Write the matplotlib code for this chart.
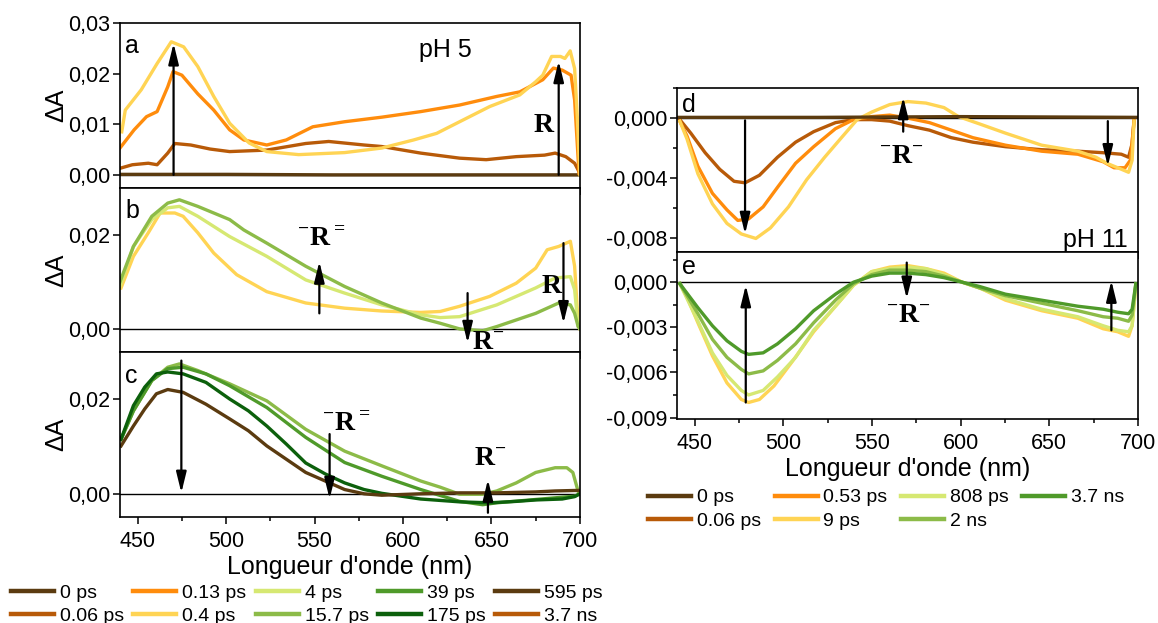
import matplotlib
matplotlib.use('Agg')
import matplotlib.pyplot as plt
from matplotlib.ticker import MultipleLocator, FuncFormatter
from matplotlib.lines import Line2D

plt.rcParams['font.family'] = ['Liberation Sans', 'DejaVu Sans']
plt.rcParams['axes.unicode_minus'] = False
plt.rcParams['mathtext.fontset'] = 'custom'
plt.rcParams['mathtext.rm'] = 'Liberation Serif:bold'
plt.rcParams['mathtext.bf'] = 'Liberation Serif:bold'

# ---- pH 5, panel a ----
wl_a_0 = [440, 500, 560, 620, 680, 700]
a_0 = [0.0001, 0.0001, 0.0, 0.0, 0.0, 0.0]
wl_a_006 = [440, 447, 456, 461, 467, 471, 480, 491, 502, 523, 545, 558, 578, 588, 610, 632, 647, 664, 680, 686, 692, 697, 700]
a_006 = [0.0013, 0.002, 0.0023, 0.002, 0.0043, 0.0062, 0.0059, 0.0051, 0.0046, 0.0049, 0.0062, 0.0066, 0.0059,
         0.0056, 0.0043, 0.0033, 0.003, 0.0036, 0.0039, 0.0043, 0.0036, 0.0023, 0.0003]
wl_a_013 = [440, 448, 455, 461, 467, 470, 475, 484, 493, 502, 510, 523, 534, 549, 567, 588, 610, 632, 653, 666, 679,
            685, 690, 695, 697, 699.5]
a_013 = [0.0053, 0.0089, 0.0115, 0.0125, 0.0174, 0.0204, 0.0197, 0.016, 0.0128, 0.0089, 0.0069, 0.0059, 0.0069,
         0.0095, 0.0105, 0.0114, 0.0125, 0.0138, 0.0155, 0.0164, 0.0188, 0.0211, 0.0207, 0.0197, 0.0148, 0.0003]
wl_a_04 = [441, 443, 452, 461, 469, 476, 484, 493, 502, 513, 523, 541, 567, 588, 606, 619, 632, 649, 666, 675, 679,
           684, 689, 691.5, 694.5, 697, 698.5, 700]
a_04 = [0.0085, 0.0128, 0.0168, 0.022, 0.0263, 0.0253, 0.0214, 0.0155, 0.0102, 0.0063, 0.0046, 0.004, 0.0044,
        0.0053, 0.0069, 0.0082, 0.0105, 0.0135, 0.0158, 0.0184, 0.0197, 0.0234, 0.0234, 0.023, 0.0245, 0.021,
        0.0115, 0.0]

# ---- pH 5, panel b ----
wl_b_04 = [440.6, 447.6, 456, 462.7, 471, 475.7, 484, 493, 506, 523, 545, 567, 588, 610, 621, 632, 649, 664, 675,
           681.5, 688, 694.6, 697, 699, 700]
b_04 = [0.0087, 0.0154, 0.0204, 0.0246, 0.0246, 0.0239, 0.0204, 0.0161, 0.0115, 0.0079, 0.0055, 0.0044, 0.0038,
        0.0035, 0.0037, 0.0048, 0.0069, 0.0097, 0.0129, 0.0168, 0.0175, 0.0186, 0.0133, 0.0012, 0.0]
wl_b_4 = [440, 447.6, 458, 467, 473.6, 484, 502, 523, 545, 567, 588, 610, 621, 632, 653, 675, 686, 694.6, 697, 699,
          700]
b_4 = [0.009, 0.0175, 0.0232, 0.0257, 0.026, 0.0239, 0.0196, 0.0154, 0.0104, 0.0076, 0.0051, 0.003, 0.0024,
       0.0026, 0.0051, 0.0087, 0.0108, 0.0111, 0.0083, 0.0005, 0.0]
wl_b_157 = [440, 447.6, 458, 467, 473.6, 484, 502, 510, 523, 545, 567, 588, 610, 621, 632, 645, 653, 675, 688, 694.6,
            697, 699, 700]
b_157 = [0.01, 0.0175, 0.0239, 0.0267, 0.0274, 0.026, 0.0232, 0.021, 0.0182, 0.0133, 0.009, 0.0055, 0.0023, 0.0012,
         0.0, -0.0004, 0.0005, 0.0033, 0.0055, 0.0051, 0.0033, 0.0005, 0.0]

# ---- pH 5, panel c ----
wl_c_157 = [440.6, 447.6, 458, 467, 473.6, 484, 502, 523, 545, 567, 588, 610, 621, 632, 645, 653, 664, 675, 686,
            692.6, 696, 699, 700]
c_157 = [0.0115, 0.0175, 0.0239, 0.0267, 0.0274, 0.026, 0.0232, 0.0196, 0.0136, 0.009, 0.0059, 0.0027, 0.0014,
         -0.0001, -0.0001, 0.0006, 0.0023, 0.0045, 0.0055, 0.0055, 0.0045, 0.0005, 0.0]
wl_c_39 = [440.6, 447.6, 458, 467, 475.7, 488.6, 502, 523, 545, 567, 588, 610, 632, 645, 653, 675, 697, 700]
c_39 = [0.0115, 0.0175, 0.0239, 0.0264, 0.0267, 0.0253, 0.0228, 0.0182, 0.0119, 0.0066, 0.0037, 0.0009, -0.0016,
        -0.0023, -0.0019, -0.0012, -0.0005, 0.0]
wl_c_175 = [440.6, 447.6, 454, 460.6, 467, 475.7, 488.6, 502, 512.6, 523, 534, 545, 556, 567, 578, 588, 599, 610,
            632, 649, 664, 675, 690, 697, 700]
c_175 = [0.0115, 0.0186, 0.0225, 0.0253, 0.0257, 0.0253, 0.0235, 0.02, 0.0175, 0.0143, 0.0105, 0.0065, 0.0042,
         0.0023, 0.0009, 0.0001, -0.0005, -0.0011, -0.0017, -0.0019, -0.0016, -0.0013, -0.0011, -0.0006, 0.0]
wl_c_595 = [440.6, 447.6, 454, 460.6, 467, 475.7, 488.6, 502, 512.6, 523, 534, 545, 556, 567, 578, 588, 610, 632,
            653, 675, 686, 697, 700]
c_595 = [0.0101, 0.0143, 0.0179, 0.0211, 0.022, 0.0214, 0.0189, 0.0158, 0.0133, 0.0101, 0.0073, 0.0045, 0.0027,
         0.0009, 0.0, -0.0003, 0.0, 0.0002, 0.0002, 0.0004, 0.0006, 0.0007, 0.0007]

# ---- pH 11, panel d ----
wl_d_0 = [440, 520, 600, 700]
d_0 = [0.00005, 0.00005, 0.0001, 0.00005]
wl_d_006 = [441.6, 447.8, 455.9, 464.1, 472.2, 478.4, 486.5, 496.7, 506.9, 517.1, 529.4, 539.6, 549.8, 560, 570.2,
            582.4, 594.7, 606.9, 625.3, 645.7, 666.1, 680.4, 690.6, 694.7, 696.7, 697.8]
d_006 = [-0.0001, -0.001, -0.0023, -0.0034, -0.0042, -0.0043, -0.0038, -0.0026, -0.0016, -0.0009, -0.0003, -0.0001,
         -0.0001, -0.0002, -0.0005, -0.0008, -0.0013, -0.0016, -0.0019, -0.0021, -0.0022, -0.0023, -0.0024, -0.0026,
         -0.0017, -0.0001]
wl_d_053 = [441.6, 445.7, 451.8, 460, 468.2, 474.3, 480.4, 488.6, 496.7, 506.9, 517.1, 529.4, 539.6, 549.8, 560,
            570.2, 582.4, 594.7, 606.9, 625.3, 645.7, 666.1, 680.4, 686.5, 692.7, 695.7, 697.8]
d_053 = [-0.0002, -0.0012, -0.0032, -0.005, -0.0061, -0.0068, -0.0067, -0.0059, -0.0046, -0.003, -0.0019, -0.0007,
         -0.0001, 0.0001, 0.0002, 0.0, -0.0003, -0.0008, -0.0013, -0.0018, -0.0022, -0.0024, -0.0029, -0.0033,
         -0.0033, -0.0028, -0.0002]
wl_d_9 = [441.6, 445.7, 451.8, 460, 468.2, 476.3, 484.5, 492.7, 502.9, 513.1, 523.3, 533.5, 541.6, 549.8, 560, 570.2,
          580.4, 590.6, 598.8, 611, 625.3, 645.7, 666.1, 676.3, 682.4, 688.6, 694.7, 696.7, 697.8]
d_9 = [-0.0002, -0.0014, -0.0037, -0.0057, -0.007, -0.0077, -0.008, -0.0073, -0.0059, -0.0041, -0.0026, -0.0012,
       -0.0001, 0.0004, 0.0009, 0.0011, 0.001, 0.0007, 0.0001, -0.0004, -0.001, -0.0018, -0.0022, -0.0026, -0.003,
       -0.0033, -0.0036, -0.0028, -0.0002]

# ---- pH 11, panel e ----
wl_e_9 = [441.6, 445.7, 451.8, 460, 468.2, 476.3, 480.4, 486.5, 494.7, 504.9, 517.1, 529.4, 539.6, 549.8, 560, 570.2,
          580.4, 590.6, 600.8, 611, 625.3, 645.7, 666.1, 680.4, 688.6, 694.7, 696.7, 698.8]
e_9 = [-0.0001, -0.001, -0.0027, -0.0049, -0.0067, -0.0078, -0.008, -0.0078, -0.0069, -0.0053, -0.0033, -0.0016,
       -0.0002, 0.0007, 0.001, 0.0011, 0.0009, 0.0006, 0.0, -0.0004, -0.0012, -0.0019, -0.0024, -0.0031, -0.0033,
       -0.0036, -0.0029, -0.0002]
wl_e = [441.6, 451.8, 460, 468.2, 476.3, 480.4, 488.6, 496.7, 506.9, 517.1, 529.4, 539.6, 549.8, 560, 570.2, 580.4,
        590.6, 600.8, 611, 625.3, 645.7, 666.1, 680.4, 688.6, 694.7, 696.7, 698.8]
e_808 = [-0.0001, -0.0026, -0.0047, -0.0062, -0.0072, -0.0075, -0.0072, -0.0063, -0.005, -0.0032, -0.0016, -0.0002,
         0.0007, 0.0009, 0.001, 0.0009, 0.0005, 0.0, -0.0004, -0.0011, -0.0018, -0.0023, -0.0029, -0.0032, -0.0033,
         -0.0029, -0.0002]
e_2 = [-0.0001, -0.0021, -0.0038, -0.005, -0.0058, -0.0061, -0.0059, -0.0052, -0.0041, -0.0027, -0.0012, -0.0001,
       0.0005, 0.0008, 0.0008, 0.0007, 0.0004, 0.0, -0.0004, -0.0009, -0.0014, -0.0019, -0.0023, -0.0024, -0.0026,
       -0.0022, -0.0001]
e_37 = [-0.0001, -0.0017, -0.0029, -0.0039, -0.0046, -0.0048, -0.0047, -0.0041, -0.0031, -0.0019, -0.0008, 0.0,
        0.0004, 0.0006, 0.0006, 0.0005, 0.0003, 0.0, -0.0003, -0.0008, -0.0012, -0.0016, -0.0018, -0.002, -0.0021,
        -0.0018, -0.0001]

left_labels = ['0 ps', '0.06 ps', '0.13 ps', '0.4 ps', '4 ps', '15.7 ps', '39 ps', '175 ps', '595 ps', '3.7 ns']
right_labels = ['0 ps', '0.06 ps', '0.53 ps', '9 ps', '808 ps', '2 ns', '3.7 ns']

c_brown = '#5b3b10'
c_rust = '#b85a08'
c_orange = '#ff8c0c'
c_yellow = '#ffd454'
c_lime = '#d6e872'
c_green = '#8cbb48'
c_mid = '#4f9a2a'
c_dark = '#0c600c'

left_colors = [c_brown, c_rust, c_orange, c_yellow, c_lime, c_green, c_mid, c_dark, c_brown, c_rust]
right_colors = [c_brown, c_rust, c_orange, c_yellow, c_lime, c_green, c_mid]

LW = 2.4


def fmt(ndec):
    def f(v, pos):
        if abs(v) < 1e-12:
            v = 0.0
        return '{:.{}f}'.format(v, ndec).replace('.', ',')
    return FuncFormatter(f)


def style_axis(ax, ylim, major, minor, ndec, xlabels=False):
    ax.set_xlim(440, 700)
    ax.set_ylim(*ylim)
    ax.xaxis.set_major_locator(MultipleLocator(50))
    ax.xaxis.set_minor_locator(MultipleLocator(25))
    ax.yaxis.set_major_locator(MultipleLocator(major))
    if minor:
        ax.yaxis.set_minor_locator(MultipleLocator(minor))
    ax.yaxis.set_major_formatter(fmt(ndec))
    ax.tick_params(which='both', direction='out', labelsize=15.5, width=1.1, pad=2)
    ax.tick_params(axis='x', pad=5)
    ax.tick_params(which='major', length=5)
    ax.tick_params(which='minor', length=3)
    if not xlabels:
        ax.tick_params(axis='x', labelbottom=False)
    for s in ax.spines.values():
        s.set_linewidth(1.2)
    ax.axhline(0, color='k', lw=1.0, zorder=1)


def arrow(ax, x, y0, y1):
    ax.annotate('', xy=(x, y1), xytext=(x, y0),
                arrowprops=dict(arrowstyle='-|>,head_length=0.9,head_width=0.22', color='k', lw=1.6,
                                shrinkA=0, shrinkB=0, mutation_scale=14), zorder=5)


def rtext(ax, x, y, s):
    ax.text(x, y, s, fontfamily='Liberation Serif', fontweight='bold', fontsize=20, ha='center', va='center',
            zorder=6)


fig = plt.figure(figsize=(11.58, 6.23), dpi=100)
ax_a = fig.add_axes([0.1036, 0.6982, 0.3972, 0.2648])
ax_b = fig.add_axes([0.1036, 0.4350, 0.3972, 0.2632])
ax_c = fig.add_axes([0.1036, 0.1701, 0.3972, 0.2648])
ax_d = fig.add_axes([0.5846, 0.5955, 0.3981, 0.2632])
ax_e = fig.add_axes([0.5846, 0.3274, 0.3981, 0.2680])

# panel a
style_axis(ax_a, (-0.0026, 0.030), 0.01, None, 2)
ax_a.plot(wl_a_0, a_0, color=c_brown, lw=LW)
ax_a.plot(wl_a_006, a_006, color=c_rust, lw=LW)
ax_a.plot(wl_a_013, a_013, color=c_orange, lw=LW)
ax_a.plot(wl_a_04, a_04, color=c_yellow, lw=LW)
arrow(ax_a, 470.3, 0.0, 0.026)
arrow(ax_a, 688, 0.0, 0.0225)
rtext(ax_a, 679.5, 0.0098, 'R')
ax_a.text(443, 0.0255, 'a', fontsize=18, ha='left', va='center')
ax_a.text(624, 0.0247, 'pH 5', fontsize=18, ha='center', va='center')

# panel b
style_axis(ax_b, (-0.0049, 0.0299), 0.02, None, 2)
ax_b.plot(wl_b_04, b_04, color=c_yellow, lw=LW)
ax_b.plot(wl_b_4, b_4, color=c_lime, lw=LW)
ax_b.plot(wl_b_157, b_157, color=c_green, lw=LW)
arrow(ax_b, 552.7, 0.0033, 0.0143)
rtext(ax_b, 553.8, 0.019, r'$^{-}$R$^{=}$')
arrow(ax_b, 636.5, 0.0076, -0.003)
rtext(ax_b, 648, -0.0032, r'R$^{-}$')
arrow(ax_b, 690.7, 0.0182, 0.0012)
rtext(ax_b, 683.8, 0.009, 'R')
ax_b.text(443, 0.025, 'b', fontsize=18, ha='left', va='center')

# panel c
style_axis(ax_c, (-0.0049, 0.0299), 0.02, None, 2, xlabels=True)
ax_c.plot(wl_c_157, c_157, color=c_green, lw=LW)
ax_c.plot(wl_c_39, c_39, color=c_mid, lw=LW)
ax_c.plot(wl_c_175, c_175, color=c_dark, lw=LW)
ax_c.plot(wl_c_595, c_595, color=c_brown, lw=LW)
arrow(ax_c, 474.7, 0.0281, 0.0002)
arrow(ax_c, 558.5, 0.0126, -0.0011)
rtext(ax_c, 567.8, 0.0147, r'$^{-}$R$^{=}$')
arrow(ax_c, 648, -0.004, 0.003)
rtext(ax_c, 649, 0.0073, r'R$^{-}$')
ax_c.text(443, 0.0249, 'c', fontsize=18, ha='left', va='center')
ax_c.set_xlabel("Longueur d'onde (nm)", fontsize=18, labelpad=2)

for ax in (ax_a, ax_b, ax_c):
    ax.set_ylabel('ΔA', fontsize=18, labelpad=0)

# panel d
style_axis(ax_d, (-0.0089, 0.002), 0.004, 0.002, 3)
ax_d.plot(wl_d_006, d_006, color=c_rust, lw=LW)
ax_d.plot(wl_d_053, d_053, color=c_orange, lw=LW)
ax_d.plot(wl_d_9, d_9, color=c_yellow, lw=LW)
ax_d.plot(wl_d_0, d_0, color=c_brown, lw=LW)
arrow(ax_d, 478.4, -0.00015, -0.0077)
arrow(ax_d, 567.6, -0.0009, 0.0014)
rtext(ax_d, 566.5, -0.0026, r'$^{-}$R$^{-}$')
arrow(ax_d, 683, -0.0002, -0.0032)
ax_d.text(443, 0.0009, 'd', fontsize=18, ha='left', va='center')
ax_d.text(676, -0.0081, 'pH 11', fontsize=18, ha='center', va='center')

# panel e
style_axis(ax_e, (-0.0091, 0.002), 0.003, 0.0015, 3, xlabels=True)
ax_e.plot(wl_e_9, e_9, color=c_yellow, lw=LW)
ax_e.plot(wl_e, e_808, color=c_lime, lw=LW)
ax_e.plot(wl_e, e_2, color=c_green, lw=LW)
ax_e.plot(wl_e, e_37, color=c_mid, lw=LW)
arrow(ax_e, 478.8, -0.008, -0.0002)
arrow(ax_e, 569.6, 0.0013, -0.0011)
rtext(ax_e, 570.6, -0.0023, r'$^{-}$R$^{-}$')
arrow(ax_e, 685, -0.0032, 0.0001)
ax_e.text(443, 0.001, 'e', fontsize=18, ha='left', va='center')
ax_e.set_xlabel("Longueur d'onde (nm)", fontsize=18, labelpad=2)

# legends
lh = [Line2D([], [], color=c, lw=3.2) for c in left_colors]
fig.legend(lh, left_labels, ncol=5, loc='upper left', bbox_to_anchor=(0.0095, 0.0624), frameon=False,
           fontsize=14, handlelength=2.2, handletextpad=0.3, columnspacing=0.5, labelspacing=0.3,
           borderpad=0, borderaxespad=0)
rh = [Line2D([], [], color=c, lw=3.2) for c in right_colors]
fig.legend(rh, right_labels, ncol=4, loc='upper left', bbox_to_anchor=(0.560, 0.2154), frameon=False,
           fontsize=14, handlelength=2.2, handletextpad=0.3, columnspacing=0.7, labelspacing=0.3,
           borderpad=0, borderaxespad=0)

fig.savefig('out.png', dpi=100)
